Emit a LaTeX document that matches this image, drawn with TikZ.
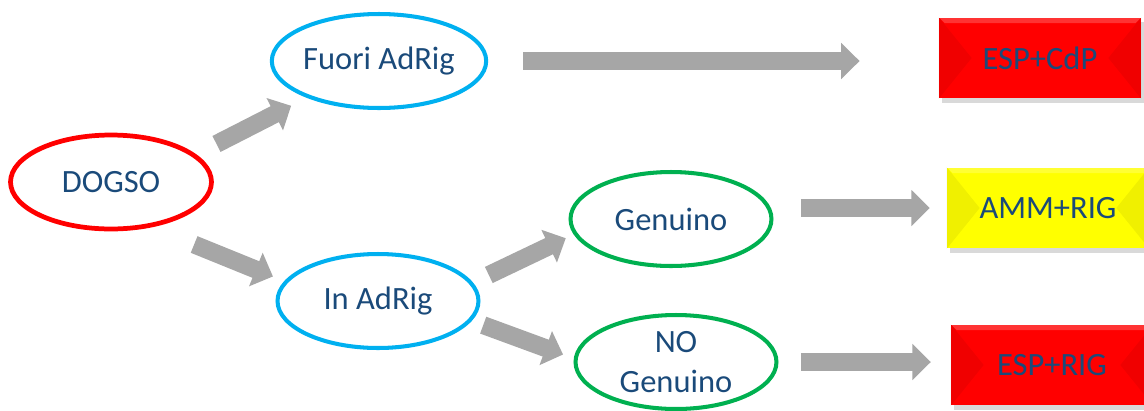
\documentclass[tikz,border=0pt]{standalone}
\usepackage{fontspec}
\setmainfont{Carlito}
\usetikzlibrary{arrows.meta,shapes.geometric,shadows,calc}
\definecolor{txtblue}{HTML}{1A4A7A}
\definecolor{ovred}{HTML}{FF0000}
\definecolor{ovcyan}{HTML}{00B0F0}
\definecolor{ovgreen}{HTML}{00B050}
\definecolor{arrgray}{HTML}{A6A6A6}
\definecolor{boxyellow}{HTML}{FFFF00}
\begin{document}
\begin{tikzpicture}[x=0.02cm, y=-0.02cm,
  oval/.style={draw, ellipse, line width=2.3pt, minimum width=4.02cm, minimum height=1.88cm, inner sep=0pt, text=txtblue, align=center, font=\fontsize{18.5}{22.7}\selectfont},
  outcome/.style={rectangle, minimum width=4.04cm, minimum height=1.62cm, inner sep=0pt, text=txtblue, font=\fontsize{18.5}{22.7}\selectfont, drop shadow={shadow xshift=1.5pt, shadow yshift=-2.5pt, opacity=0.3}},
  blk/.style={arrgray, line width=10.2pt, -{Triangle[width=20pt,length=10.5pt]}}]
\useasboundingbox (0,0) rectangle (1144,410);
\clip (0,0) rectangle (1144,410);
\node[oval, draw=ovred, line width=2.7pt] (dogso) at (111,182) {DOGSO};
\node[oval, draw=ovcyan] (fuori) at (379,61) {Fuori AdRig};
\node[oval, draw=ovcyan] (inadrig) at (378,301) {In AdRig};
\node[oval, draw=ovgreen] (genuino) at (671,219) {Genuino};
\node[oval, draw=ovgreen] (nogen) at (676,362) {NO\\Genuino};
\node[outcome, fill=ovred] (espcdp) at (1040,58) {ESP+CdP};
\node[outcome, fill=boxyellow] (ammrig) at (1048,208) {AMM+RIG};
\node[outcome, fill=ovred] (esprig) at (1052,365) {ESP+RIG};
\foreach \b in {espcdp,ammrig,esprig}{
  \fill[black, opacity=0.06] (\b.north west) -- ($(\b.west)+(33,0)$) -- (\b.south west) -- cycle;
  \fill[black, opacity=0.06] (\b.north east) -- ($(\b.east)+(-33,0)$) -- (\b.south east) -- cycle;
  \fill[white, opacity=0.2] (\b.north west) -- (\b.north east) -- ($(\b.north east)+(-6,6)$) -- ($(\b.north west)+(6,6)$) -- cycle;
}
\draw[blk, shorten <=13pt, shorten >=10pt] (dogso.18) -- (fuori.207);
\draw[blk, shorten <=26pt, shorten >=7pt] (dogso.-48) -- (inadrig.168);
\draw[blk, shorten <=10pt, shorten >=5pt] (inadrig.11) -- (genuino.189);
\draw[blk, shorten <=7pt, shorten >=6.5pt] (inadrig.-12) -- (nogen.178);
\draw[blk, shorten <=20pt, shorten >=45pt] (fuori.east) -- (fuori.east -| espcdp.west);
\draw[blk, shorten <=15.6pt, shorten >=9.6pt] (ammrig.west -| genuino.east) -- (ammrig.west);
\draw[blk, shorten <=12.8pt, shorten >=11.3pt] (nogen.east) -- (nogen.east -| esprig.west);
\end{tikzpicture}
\end{document}
